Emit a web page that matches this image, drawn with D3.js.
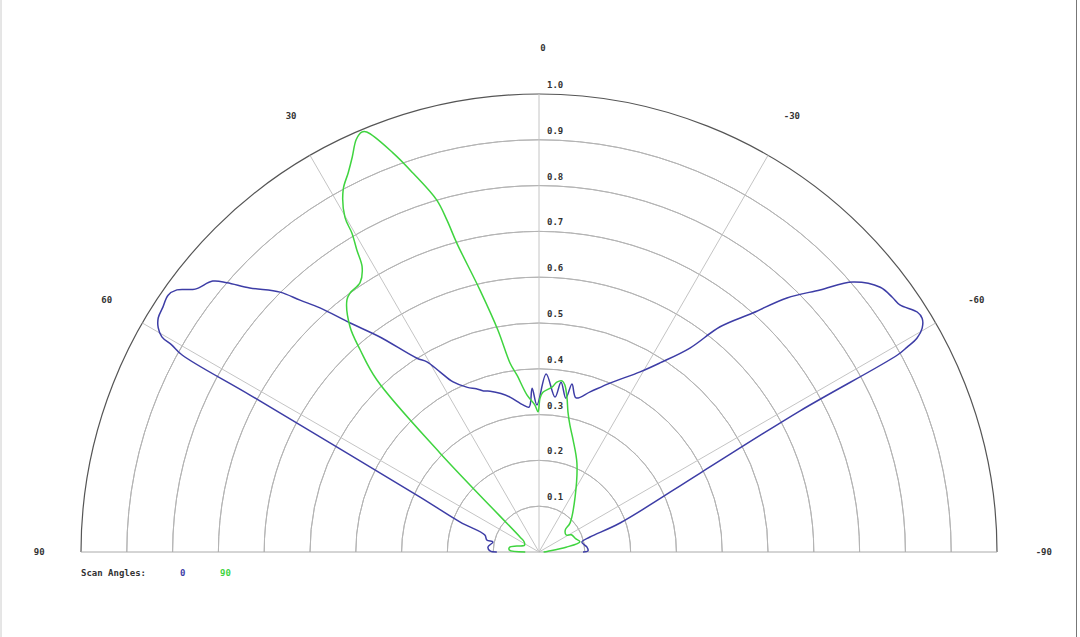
<!DOCTYPE html>
<html><head><meta charset="utf-8">
<script src="https://cdn.jsdelivr.net/npm/d3@7"></script>
<style>body{margin:0;background:#fff}svg{display:block}</style>
</head><body>
<script>
// ---- data ----
const angleTicks = [90, 60, 30, 0, -30, -60, -90];
const ringTicks = [0.1, 0.2, 0.3, 0.4, 0.5, 0.6, 0.7, 0.8, 0.9, 1.0];
const seriesNames = ["0", "90"];

const blueAngles = [90, 88.8, 84.4, 77.7, 77, 72.5, 69.2, 65.2, 62.8, 61.5, 61.1, 60.6, 60.3, 59.5, 58.4, 56.9, 55.3, 54.1, 52.6, 50.3, 49.2, 47.6, 44.9, 43.5, 41.9, 39.5, 36.5, 32.2, 30.5, 28.8, 26.8, 23.5, 21, 19, 16.9, 13.5, 10.6, 6.2, 3.9, 2.4, 0.8, -2.3, -5.9, -7.4, -9.9, -11.1, -13.5, -17.7, -22.8, -29.3, -32.6, -36.5, -38.8, -41.8, -44.3, -47, -49.3, -52.2, -54.2, -55.6, -57.6, -58.6, -59.7, -60.5, -60.9, -61.2, -61.6, -63.9, -70.3, -73.6, -76.9, -84, -88.8, -90];
const blueValues = [0.092, 0.107, 0.112, 0.103, 0.117, 0.124, 0.184, 0.286, 0.464, 0.718, 0.890, 0.920, 0.948, 0.965, 0.976, 0.980, 0.985, 0.976, 0.945, 0.926, 0.900, 0.855, 0.801, 0.758, 0.716, 0.648, 0.584, 0.500, 0.482, 0.449, 0.416, 0.392, 0.382, 0.372, 0.367, 0.356, 0.344, 0.323, 0.317, 0.358, 0.321, 0.389, 0.340, 0.374, 0.341, 0.374, 0.346, 0.367, 0.400, 0.451, 0.490, 0.554, 0.631, 0.700, 0.775, 0.839, 0.904, 0.943, 0.951, 0.955, 0.978, 0.980, 0.969, 0.948, 0.920, 0.894, 0.648, 0.392, 0.188, 0.116, 0.096, 0.105, 0.107, 0.096];

const greenAngles = [90, 86, 81, 75, 65, 55, 51.7, 45, 43.3, 41.5, 40, 37.3, 36.1, 33.6, 31.8, 31.1, 30.4, 30.1, 28.4, 26.7, 25.3, 23.9, 22.9, 22.3, 20.1, 18.4, 16.2, 15.5, 14.9, 12.7, 10.5, 8.7, 7.1, 4.4, 1.6, 0.4, -0.4, -1.4, -4.5, -6, -7.7, -8.8, -10.3, -11.7, -13.7, -16.9, -23.1, -33.2, -46.9, -50, -58, -62, -70, -76, -80, -85, -90];
const greenValues = [0.03, 0.065, 0.065, 0.05, 0.035, 0.04, 0.053, 0.306, 0.516, 0.589, 0.642, 0.692, 0.700, 0.706, 0.733, 0.770, 0.807, 0.845, 0.899, 0.927, 0.954, 0.985, 0.995, 0.991, 0.928, 0.872, 0.800, 0.752, 0.698, 0.586, 0.493, 0.417, 0.389, 0.344, 0.321, 0.306, 0.336, 0.349, 0.361, 0.373, 0.377, 0.369, 0.342, 0.312, 0.285, 0.256, 0.211, 0.144, 0.093, 0.075, 0.07, 0.08, 0.085, 0.092, 0.06, 0.02, 0.01];

const seriesColors = ["#3d3da6", "#3fd43f"];

// ---- layout ----
const W = 1080, H = 637;
const cx = 539, cy = 552, R = 458;

const svg = d3.select("body").append("svg").attr("width", W).attr("height", H);
const g = svg.append("g").attr("transform", `translate(${cx},${cy})`);

const r = d3.scaleLinear().domain([0, 1]).range([0, R]);
const toRad = d => -d * Math.PI / 180;

// rings
g.selectAll("path.ring").data(ringTicks).join("path")
  .attr("class", "ring")
  .attr("d", d => d3.arc()({innerRadius: r(d), outerRadius: r(d), startAngle: -Math.PI / 2, endAngle: Math.PI / 2}))
  .attr("fill", "none")
  .attr("stroke", d => d === 1 ? "#555" : "#b4b4b4")
  .attr("stroke-width", d => d === 1 ? 1.2 : 1);

// spokes
g.selectAll("line.spoke").data(angleTicks).join("line")
  .attr("class", "spoke")
  .attr("x1", 0).attr("y1", 0)
  .attr("x2", d => r(1) * Math.sin(toRad(d)))
  .attr("y2", d => -r(1) * Math.cos(toRad(d)))
  .attr("stroke", d => Math.abs(d) === 90 ? "#aaa" : "#c4c4c4")
  .attr("stroke-width", 1);

const font = "DejaVu Sans Mono, monospace";

// ring labels
g.selectAll("text.rl").data(ringTicks).join("text")
  .attr("class", "rl")
  .attr("x", 8).attr("y", d => -r(d) - 6)
  .attr("font-family", font).attr("font-weight", "bold")
  .attr("font-size", 9).attr("fill", "#333")
  .text(d => d.toFixed(1));

// angle labels
g.selectAll("text.al").data(angleTicks).join("text")
  .attr("class", "al")
  .attr("x", d => r(1.1) * Math.sin(toRad(d)) + (d < 0 ? 1 : 4))
  .attr("y", d => -r(1.1) * Math.cos(toRad(d)))
  .attr("text-anchor", "middle").attr("dominant-baseline", "central")
  .attr("font-family", font).attr("font-weight", "bold")
  .attr("font-size", 9).attr("fill", "#333")
  .text(d => String(d));

// series
const line = d3.lineRadial().curve(d3.curveCatmullRom.alpha(0.5));
const series = [
  {angles: blueAngles, values: blueValues, color: seriesColors[0]},
  {angles: greenAngles, values: greenValues, color: seriesColors[1]}
];
series.forEach(s => {
  const pts = s.angles.map((a, i) => [toRad(a), r(s.values[i])]);
  g.append("path").attr("d", line(pts))
    .attr("fill", "none").attr("stroke", s.color).attr("stroke-width", 1.5)
    .attr("stroke-linejoin", "round");
});

// legend
const lg = svg.append("g").attr("font-family", font).attr("font-weight", "bold").attr("font-size", 9);
lg.append("text").attr("x", 81).attr("y", 576).attr("fill", "#333").text("Scan Angles:");
seriesNames.forEach((n, i) => {
  lg.append("text").attr("x", 180 + i * 40).attr("y", 576).attr("fill", seriesColors[i]).text(n);
});

// frame edges
svg.append("line").attr("x1", 1).attr("x2", 1).attr("y1", 0).attr("y2", H).attr("stroke", "#ccc");
svg.append("line").attr("x1", 1076.5).attr("x2", 1076.5).attr("y1", 0).attr("y2", H).attr("stroke", "#777");
</script>
</body></html>
